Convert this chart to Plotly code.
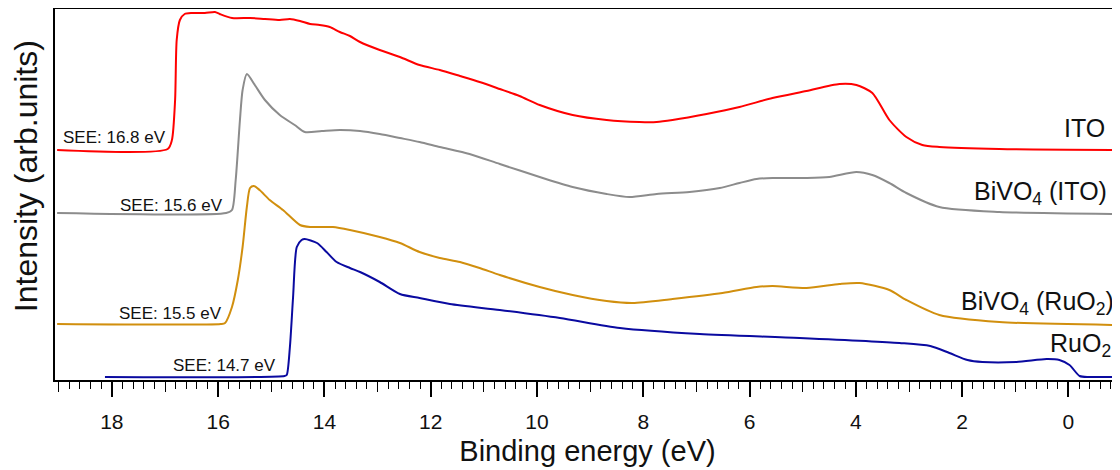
import plotly.graph_objects as go

# ---- data (binding energy in eV, intensity offset, arb. units) ----
ito_e = [19.03, 16.95, 16.87, 16.81, 16.78, 16.72, 16.63, 16.49, 16.25, 16.06, 15.97, 15.74, 15.40,
         15.12, 14.84, 14.65, 14.46, 14.27, 14.09, 13.90, 13.71, 13.52, 13.33, 12.96, 12.58, 12.21,
         11.83, 11.45, 11.08, 10.70, 10.33, 9.95, 9.33, 8.69, 8.07, 7.75, 7.45, 6.81, 6.19, 5.57,
         4.93, 4.31, 3.99, 3.69, 3.37, 3.05, 2.75, 2.43, 1.30, -0.95]
ito_i = [230, 231, 240, 280, 340, 360, 366, 367, 367, 368, 366, 362, 362,
         361, 360, 361, 359, 356, 355, 353, 348, 344, 338, 330, 323, 315,
         310, 304, 298, 291, 284, 275, 265, 260, 258, 258, 260, 266, 273, 282,
         289, 296, 295, 287, 260, 243, 235, 233, 231, 230]

bvo_ito_e = [19.03, 15.85, 15.74, 15.67, 15.59, 15.54, 15.46, 15.31, 15.12, 14.84, 14.56, 14.37,
             14.05, 13.71, 13.33, 12.96, 12.58, 12.21, 11.83, 11.27, 10.70, 9.95, 9.33, 8.69,
             8.26, 7.75, 7.13, 6.56, 6.19, 5.87, 5.57, 4.93, 4.50, 3.99, 3.69, 3.37, 3.05,
             2.43, 1.30, -0.95]
bvo_ito_i = [167, 167, 170, 200, 260, 290, 306, 295, 280, 265, 255, 248,
             249, 250, 249, 246, 242, 238, 233, 226, 216, 203, 193, 186,
             183, 186, 188, 192, 197, 201, 202, 202, 203, 208, 205, 197, 187,
             173, 168, 166]

bvo_ruo_e = [19.03, 15.95, 15.87, 15.74, 15.63, 15.54, 15.46, 15.40, 15.33, 15.22, 15.03, 14.78,
             14.46, 14.27, 13.84, 13.52, 12.96, 12.58, 12.21, 11.83, 11.45, 11.08, 10.70, 9.95,
             9.33, 8.69, 8.20, 7.45, 6.51, 5.87, 5.57, 4.93, 4.31, 3.93, 3.37, 3.05, 2.43,
             1.30, -0.90]
bvo_ruo_i = [56, 56, 57, 73, 100, 133, 173, 192, 194, 190, 180, 170,
             155, 153, 153, 150, 143, 137, 128, 122, 118, 112, 105, 93,
             85, 79, 77, 81, 87, 93, 94, 92, 96, 97, 90, 80, 65,
             58, 55]

ruo_e = [18.13, 14.75, 14.71, 14.65, 14.59, 14.52, 14.43, 14.37, 14.14, 13.96, 13.77, 13.52,
         13.33, 12.96, 12.58, 12.21, 11.64, 10.70, 9.57, 8.44, 6.94, 5.06, 3.18, 2.60, 2.24,
         1.90, 1.62, 0.98, 0.41, 0.17, -0.02, -0.21, -0.39, -0.82]
ruo_i = [3, 4, 5, 33, 83, 133, 140, 141, 137, 128, 118, 112,
         108, 98, 86, 82, 76, 70, 62, 52, 46, 42, 37, 34, 27,
         20, 18, 18, 21, 20, 15, 4, 3, 3]

series_names = ["ITO", "BiVO<sub>4</sub> (ITO)", "BiVO<sub>4</sub> (RuO<sub>2</sub>)", "RuO<sub>2</sub>"]
series_colors = ["#ff0000", "#8c8c8c", "#d18f0e", "#0a0aa0"]

see_labels = ["SEE: 16.8 eV", "SEE: 15.6 eV", "SEE: 15.5 eV", "SEE: 14.7 eV"]
see_x = [16.95, 15.87, 15.89, 14.88]
see_y = [243, 175, 67, 15]

name_x = [-0.72, -0.77, -0.90, -0.83]
name_y = [252, 187, 77, 35]

major_ticks = [18, 16, 14, 12, 10, 8, 6, 4, 2, 0]
mid_ticks = [19, 17, 15, 13, 11, 9, 7, 5, 3, 1, -1]

x_title = "Binding energy (eV)"
y_title = "Intensity (arb.units)"

xs = [ito_e, bvo_ito_e, bvo_ruo_e, ruo_e]
ys = [ito_i, bvo_ito_i, bvo_ruo_i, ruo_i]

font = "Arial, Liberation Sans, sans-serif"
fig = go.Figure()
for x, y, n, c in zip(xs, ys, series_names, series_colors):
    fig.add_trace(go.Scatter(x=x, y=y, mode="lines", name=n,
                             line=dict(color=c, width=2, shape="spline", smoothing=0.7),
                             showlegend=False))

# invisible trace on xaxis2 (carries the odd-integer mid ticks)
fig.add_trace(go.Scatter(x=[0], y=[0], xaxis="x2", mode="markers",
                         marker=dict(opacity=0), showlegend=False, hoverinfo="skip"))

for t, x, y in zip(see_labels, see_x, see_y):
    fig.add_annotation(x=x, y=y, text=t, showarrow=False, xanchor="right", yanchor="middle",
                       font=dict(size=17, color="#111", family=font))
for t, x, y in zip(series_names, name_x, name_y):
    fig.add_annotation(x=x, y=y, text=t, showarrow=False, xanchor="right", yanchor="middle",
                       font=dict(size=25, color="#111", family=font))

# y-axis title as rotated annotation
fig.add_annotation(xref="paper", yref="paper", x=-0.027, y=0.55, text=y_title, textangle=-90,
                   showarrow=False, xanchor="center", yanchor="middle",
                   font=dict(size=32, color="#111", family=font))

xr = [19.07, -0.97]
fig.update_layout(
    width=1112, height=462,
    margin=dict(l=47, r=0, t=1, b=90),
    paper_bgcolor="white", plot_bgcolor="white",
    font=dict(family=font, color="#111"),
    xaxis=dict(range=xr, tickvals=major_ticks, ticktext=[str(v) for v in major_ticks],
               automargin=False, ticklabelstandoff=7,
               ticks="outside", ticklen=15, tickwidth=1.5, tickcolor="black",
               showline=True, linecolor="black", linewidth=2, mirror=True,
               showgrid=False, zeroline=False,
               tickfont=dict(size=21, family=font, color="#111"),
               title=dict(text=x_title, font=dict(size=29, family=font, color="#111"),
                          standoff=8),
               minor=dict(dtick=0.2, tick0=0, ticks="outside", ticklen=7, tickwidth=1,
                          tickcolor="black", showgrid=False)),
    xaxis2=dict(range=xr, overlaying="x", anchor="y", side="bottom", tickvals=mid_ticks,
                automargin=False,
                ticks="outside", ticklen=11, tickwidth=1.2, tickcolor="black",
                showticklabels=False, showline=False, showgrid=False, zeroline=False),
    yaxis=dict(range=[0, 371], showticklabels=False, ticks="", showgrid=False, zeroline=False,
               automargin=False,
               showline=True, linecolor="black", linewidth=2),
)

fig.write_html("out.html")
